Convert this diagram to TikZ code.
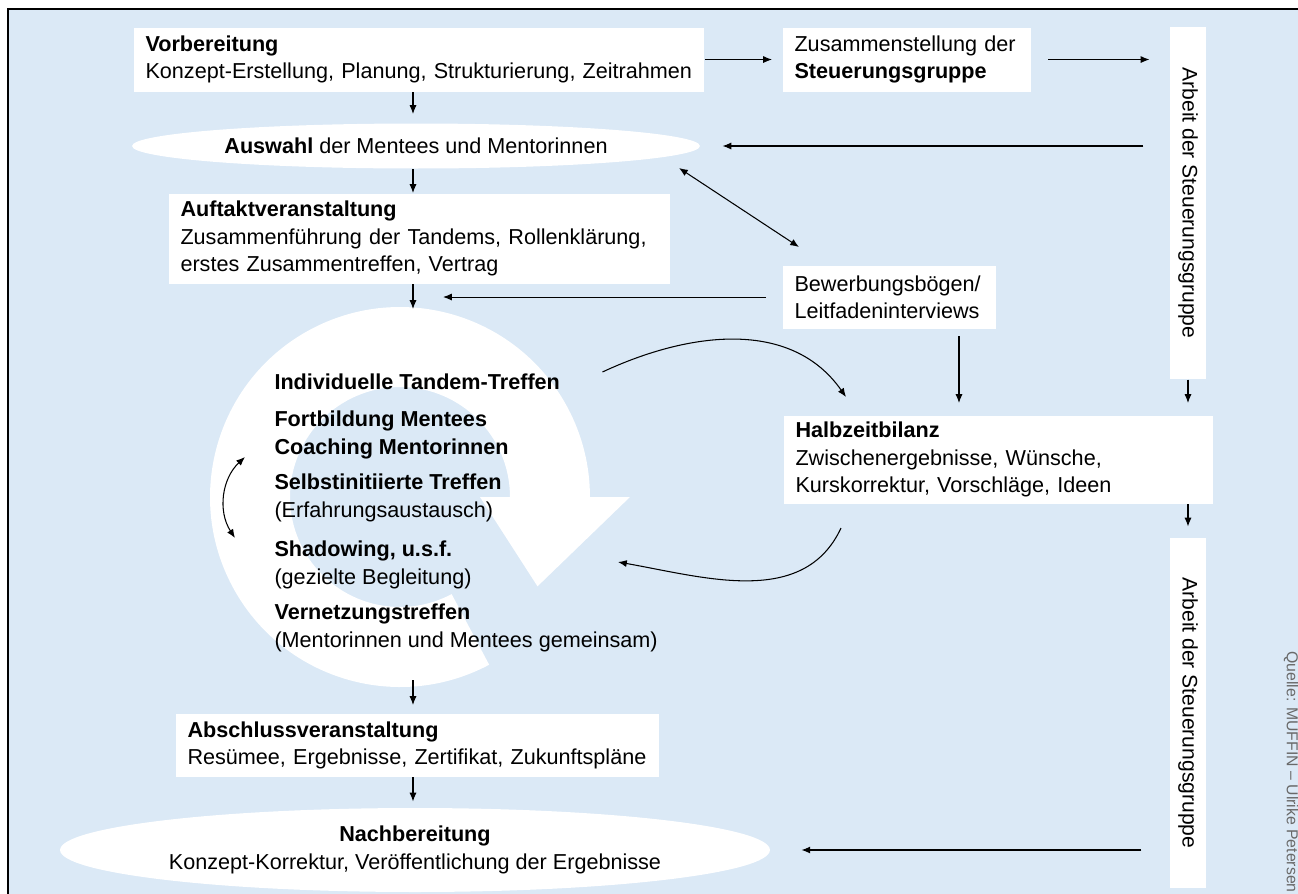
\documentclass[tikz,border=0pt]{standalone}
\usepackage{fontspec}
\setmainfont{Liberation Sans}
\usetikzlibrary{shapes.geometric,arrows.meta,calc}
\definecolor{bgblue}{RGB}{219,233,246}
\definecolor{srcgray}{RGB}{105,105,105}
\tikzset{
  box/.style={fill=white, align=left, anchor=north west, inner xsep=0.24cm, inner ysep=0pt,
    font=\fontsize{12.3}{15.5}\selectfont},
  oval/.style={ellipse, fill=white, inner sep=0pt, align=center,
    font=\fontsize{12.3}{15.5}\selectfont},
  side/.style={fill=white, rotate=-90, minimum height=0.72cm, inner sep=0pt,
    font=\fontsize{12}{15}\selectfont},
  cyc/.style={anchor=west, align=left, inner sep=0pt,
    font=\fontsize{12.3}{15.5}\selectfont},
}
\begin{document}
\begin{tikzpicture}[x=0.02cm, y=0.02cm, >={Latex[length=5pt,width=4pt]}, line width=0.6pt]
  \useasboundingbox (0,0) rectangle (1298,-893);
  \fill[bgblue] (8,-9) rectangle (1320,-910);
  \draw[line width=1pt] (8,-9) rectangle (1320,-910);
  \coordinate (ringc) at (400,-497);
  \coordinate (spine) at (413,0);
  \coordinate (col) at (959,0);
  \fill[white] ($(ringc)+(0:4.6cm)$) -- ($(ringc)+(-33:3.28cm)$) -- ($(ringc)+(0:1.6cm)$)
    -- ($(ringc)+(0:2.2cm)$) arc[start angle=0, end angle=298, radius=2.2cm]
    -- ($(ringc)+(298:3.8cm)$) arc[start angle=298, end angle=0, radius=3.8cm] -- cycle;

  \node[box, text width=10.94cm, minimum height=1.28cm] (vorb) at (133,-27)
    {\textbf{Vorbereitung}\\Konzept-Erstellung, Planung, Strukturierung, Zeitrahmen};
  \node[box, text width=4.5cm, minimum height=1.28cm] (zus) at (782,-27)
    {Zusammenstellung der\\\textbf{Steuerungsgruppe}};
  \node[side, minimum width=7.04cm] (steuer1) at (1188,-203) {Arbeit der Steuerungsgruppe};
  \node[oval, minimum width=11.36cm, minimum height=0.9cm] (auswahl) at (416,-146)
    {\textbf{Auswahl} der Mentees und Mentorinnen};
  \node[box, text width=9.56cm, minimum height=1.8cm] (auftakt) at (168,-193)
    {\textbf{Auftaktveranstaltung}\\Zusammenführung der Tandems, Rollenklärung,\\erstes Zusammentreffen, Vertrag};
  \node[box, text width=3.8cm, minimum height=1.26cm] (bewerb) at (782,-265)
    {Bewerbungsbögen/\\Leitfadeninterviews};
  \node[box, text width=8.12cm, minimum height=1.76cm] (halbzeit) at (783,-415)
    {\textbf{Halbzeitbilanz}\\Zwischenergebnisse, Wünsche,\\Kurskorrektur, Vorschläge, Ideen};
  \node[side, minimum width=7cm] (steuer2) at (1188,-713) {Arbeit der Steuerungsgruppe};

  \node[cyc] (tandem) at (274,-382) {\textbf{Individuelle Tandem-Treffen}};
  \node[cyc] (fortb) at (274,-435) {\textbf{Fortbildung Mentees}\\\textbf{Coaching Mentorinnen}};
  \node[cyc] (selbst) at (274,-498) {\textbf{Selbstinitiierte Treffen}\\(Erfahrungsaustausch)};
  \node[cyc] (shadow) at (274,-565) {\textbf{Shadowing, u.s.f.}\\(gezielte Begleitung)};
  \node[cyc] (vernetz) at (274,-628) {\textbf{Vernetzungstreffen}\\(Mentorinnen und Mentees gemeinsam)};

  \node[box, text width=9.2cm, minimum height=1.26cm] (abschluss) at (175,-713)
    {\textbf{Abschlussveranstaltung}\\Resümee, Ergebnisse, Zertifikat, Zukunftspläne};
  \node[oval, minimum width=14.2cm, minimum height=1.68cm] (nach) at (415,-850)
    {\textbf{Nachbereitung}\\Konzept-Korrektur, Veröffentlichung der Ergebnisse};
  \node[rotate=-90, inner sep=0pt, text=srcgray, font=\fontsize{9}{10}\selectfont] (quelle) at (1291,-772)
    {Quelle: MUFFIN – Ulrike Petersen};

  \begin{scope}[->]
    \draw[shorten >=0.18cm] (vorb.south -| spine) -- (auswahl.north -| spine);
    \draw[shorten >=0.2cm] (vorb.east) -- (zus.west);
    \draw[shorten <=0.32cm, shorten >=0.4cm] (zus.east) -- (zus.east -| steuer1.south);
    \draw[shorten <=0.52cm, shorten >=0.44cm] (steuer1.south |- auswahl.east) -- (auswahl.east);
    \draw (auswahl.south -| spine) -- (auftakt.north -| spine);
    \draw[<->] ($(auswahl.center)+(263,-22)$) -- ($(bewerb.north west)+(17,18)$);
    \draw[shorten <=0.32cm, shorten >=0.6cm] (bewerb.west) -- (bewerb.west -| spine);
    \draw (auftakt.south -| spine) -- ($(ringc)+(13,188)$);
    \draw[shorten <=0.14cm, shorten >=0.24cm] (bewerb.south -| col) -- (halbzeit.north -| col);
    \draw[shorten >=0.24cm] (steuer1.east) -- (steuer1.east |- halbzeit.north);
    \draw[shorten >=0.22cm] (steuer1.east |- halbzeit.south) -- (steuer2.west);
    \draw ($(tandem.east)+(42,10)$) to[out=25, in=125] ($(halbzeit.north west)+(63,18)$);
    \draw ($(halbzeit.south west)+(58,-24)$) to[out=-115, in=-10] ($(ringc)+(218,-65)$);
    \draw[<->] ($(ringc)+(-155,40)$) to[bend right=40] ($(ringc)+(-165,-41)$);
    \draw[shorten >=0.16cm] ($(ringc)+(13,-183)$) -- (abschluss.north -| spine);
    \draw[shorten >=0.12cm] (abschluss.south -| spine) -- (nach.north -| spine);
    \draw[shorten <=0.56cm, shorten >=0.62cm] (steuer2.south |- nach.east) -- (nach.east);
  \end{scope}
\end{tikzpicture}
\end{document}
